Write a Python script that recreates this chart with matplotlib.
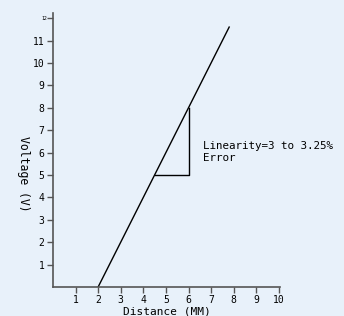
import numpy as np
import matplotlib.pyplot as plt

# transfer line (distance in mm, voltage in V)
dist = [2, 7.8]
volt = [0, 11.6]

# linearity triangle
tri_x = [4.5, 6, 6]
tri_y = [5, 5, 8]

xticks = [1, 2, 3, 4, 5, 6, 7, 8, 9, 10]
yticks = [1, 2, 3, 4, 5, 6, 7, 8, 9, 10, 11]

bg = '#e8f1fa'
plt.rcParams['font.family'] = 'DejaVu Sans Mono'

fig = plt.figure(figsize=(3.44, 3.16), dpi=100, facecolor=bg)
ax = fig.add_axes([0.154, 0.092, 0.66, 0.867], facecolor=bg)

ax.plot(dist, volt, color='black', lw=1)
ax.plot(tri_x, tri_y, color='black', lw=1)

ax.text(6.65, 6.3, 'Linearity=3 to 3.25%', fontsize=7.8, va='center')
ax.text(6.65, 5.75, 'Error', fontsize=7.8, va='center')

ax.set_xlim(0, 10.05)
ax.set_ylim(0, 12.23)
ax.set_xticks(xticks)
ax.set_yticks(yticks + [12])
ax.set_yticklabels([str(t) for t in yticks] + [''])
ax.text(-0.25, 12, '12', fontsize=3.5, ha='right', va='center')

for s in ['top', 'right']:
    ax.spines[s].set_visible(False)
for s in ['left', 'bottom']:
    ax.spines[s].set_color('#555555')
    ax.spines[s].set_linewidth(1.2)

ax.tick_params(direction='out', length=4, width=1, color='#555555',
               labelsize=7, pad=2)

ax.set_xlabel('Distance (MM)', fontsize=8, labelpad=1)
ax.text(-0.132, 0.412, 'Voltage (V)', fontsize=8.3, rotation=-90,
        ha='center', va='center', transform=ax.transAxes)

fig.savefig('out.png', dpi=100, facecolor=bg)
